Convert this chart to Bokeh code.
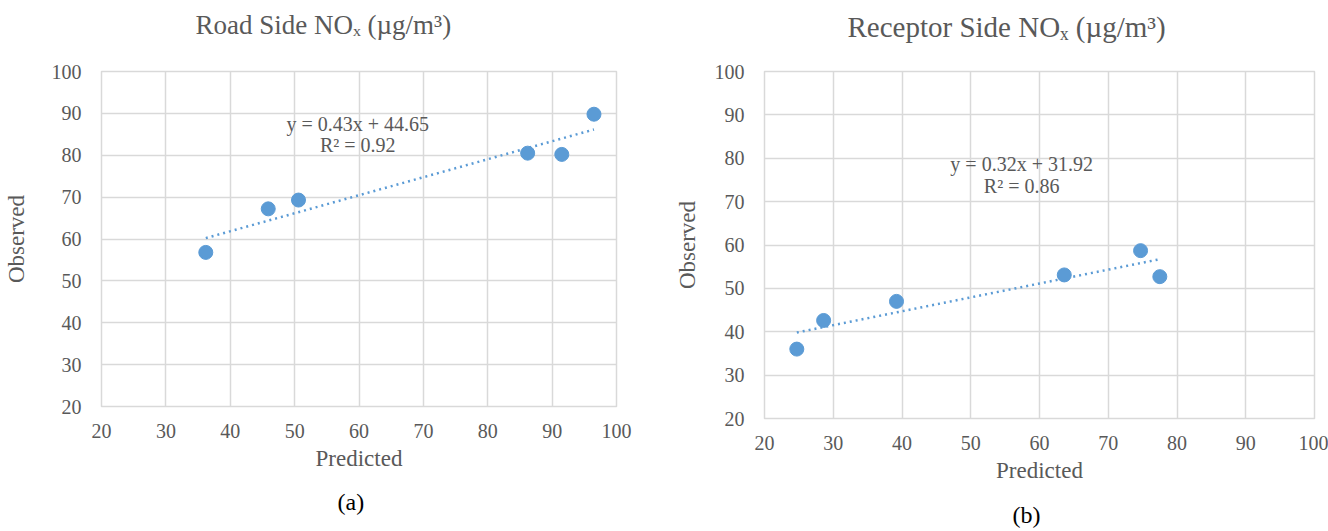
from bokeh.plotting import figure
from bokeh.layouts import row
from bokeh.models import Range1d, FixedTicker, Label, Title
from bokeh.embed import file_html
from bokeh.resources import INLINE

# ---- data ----
ticks = [20, 30, 40, 50, 60, 70, 80, 90, 100]

road_title = "Road Side NOₓ (µg/m³)"
road_pred = [36.2, 45.9, 50.6, 86.2, 91.5, 96.5]
road_obs = [56.8, 67.2, 69.3, 80.5, 80.2, 89.8]
road_slope = 0.43
road_intercept = 44.65
road_r2 = 0.92

rec_title = "Receptor Side NOₓ (µg/m³)"
rec_pred = [24.7, 28.6, 39.2, 63.6, 74.7, 77.5]
rec_obs = [36.0, 42.6, 47.0, 53.1, 58.7, 52.7]
rec_slope = 0.32
rec_intercept = 31.92
rec_r2 = 0.86

FONT = "Liberation Serif"
GRAY = "#595959"
GRID = "#d9d9d9"
BLUE = "#5b9bd5"


def spacer(gap):
    # white-on-white dot: only used to reserve vertical space
    return Title(text=".", text_font_size="8px", text_color="white", standoff=gap)


def make_panel(title, pred, obs, slope, intercept, r2, caption, height, border_right,
               title_cfg, cap_cfg, eq_xy, label_standoff_y):
    t_size, t_offset, t_gap = title_cfg
    c_offset, c_gap = cap_cfg
    p = figure(width=664, height=height, output_backend="svg", toolbar_location=None,
               x_range=Range1d(20, 100), y_range=Range1d(20, 100),
               min_border_left=100, min_border_right=border_right,
               min_border_top=71, min_border_bottom=113)
    p.title = None

    for ax in (p.xaxis[0], p.yaxis[0]):
        ax.ticker = FixedTicker(ticks=ticks)
        ax.axis_line_color = None
        ax.major_tick_line_color = None
        ax.minor_tick_line_color = None
        ax.major_label_text_font = FONT
        ax.major_label_text_font_size = "20px"
        ax.major_label_text_color = GRAY
        ax.axis_label_text_font = FONT
        ax.axis_label_text_font_size = "23px"
        ax.axis_label_text_font_style = "normal"
        ax.axis_label_text_color = GRAY
    p.xaxis.major_label_standoff = 11
    p.yaxis.major_label_standoff = 14
    p.xaxis.axis_label = "Predicted"
    p.yaxis.axis_label = "Observed"
    p.xaxis.axis_label_standoff = 5
    p.yaxis.axis_label_standoff = label_standoff_y

    p.xgrid.ticker = FixedTicker(ticks=ticks)
    p.ygrid.ticker = FixedTicker(ticks=ticks)
    for g in (p.xgrid[0], p.ygrid[0]):
        g.grid_line_color = GRID
        g.grid_line_width = 1.5
    p.outline_line_color = GRID
    p.outline_line_width = 1.5
    p.background_fill_color = "white"
    p.border_fill_color = "white"

    # trendline
    x0, x1 = min(pred), max(pred)
    p.line([x0, x1], [slope * x0 + intercept, slope * x1 + intercept],
           line_color=BLUE, line_width=2.5, line_dash="2 4")
    p.scatter(pred, obs, size=14, color=BLUE, line_color=BLUE)

    ex, ey = eq_xy
    p.add_layout(Label(x=ex, y=ey, text=f"y = {slope}x + {intercept}",
                       text_align="center", text_baseline="middle",
                       text_font=FONT, text_font_size="20px", text_color=GRAY))
    p.add_layout(Label(x=ex, y=ey - 5, text=f"R² = {r2}",
                       text_align="center", text_baseline="middle",
                       text_font=FONT, text_font_size="20px", text_color=GRAY))

    # chart title above the frame
    p.add_layout(spacer(t_gap), "above")
    p.add_layout(Title(text=title, align="left", offset=t_offset, vertical_align="top",
                       standoff=0, text_font=FONT, text_font_size=t_size,
                       text_color=GRAY, text_font_style="normal"), "above")
    # panel caption below the axis
    p.add_layout(spacer(c_gap), "below")
    p.add_layout(Title(text=caption, align="left", offset=c_offset, vertical_align="top",
                       standoff=0, text_font=FONT, text_font_size="24px",
                       text_color="black", text_font_style="normal"), "below")
    return p


left = make_panel(road_title, road_pred, road_obs, road_slope, road_intercept, road_r2,
                  "(a)", 519, 48, ("27px", 94, 23), (236, 8), (59.8, 87.4), 20)
right = make_panel(rec_title, rec_pred, rec_obs, rec_slope, rec_intercept, rec_r2,
                   "(b)", 531, 14, ("29px", 83, 20), (248, 9), (57.4, 78.6), 12)

layout = row(left, right)
open("out.html", "w").write(file_html(layout, INLINE))
